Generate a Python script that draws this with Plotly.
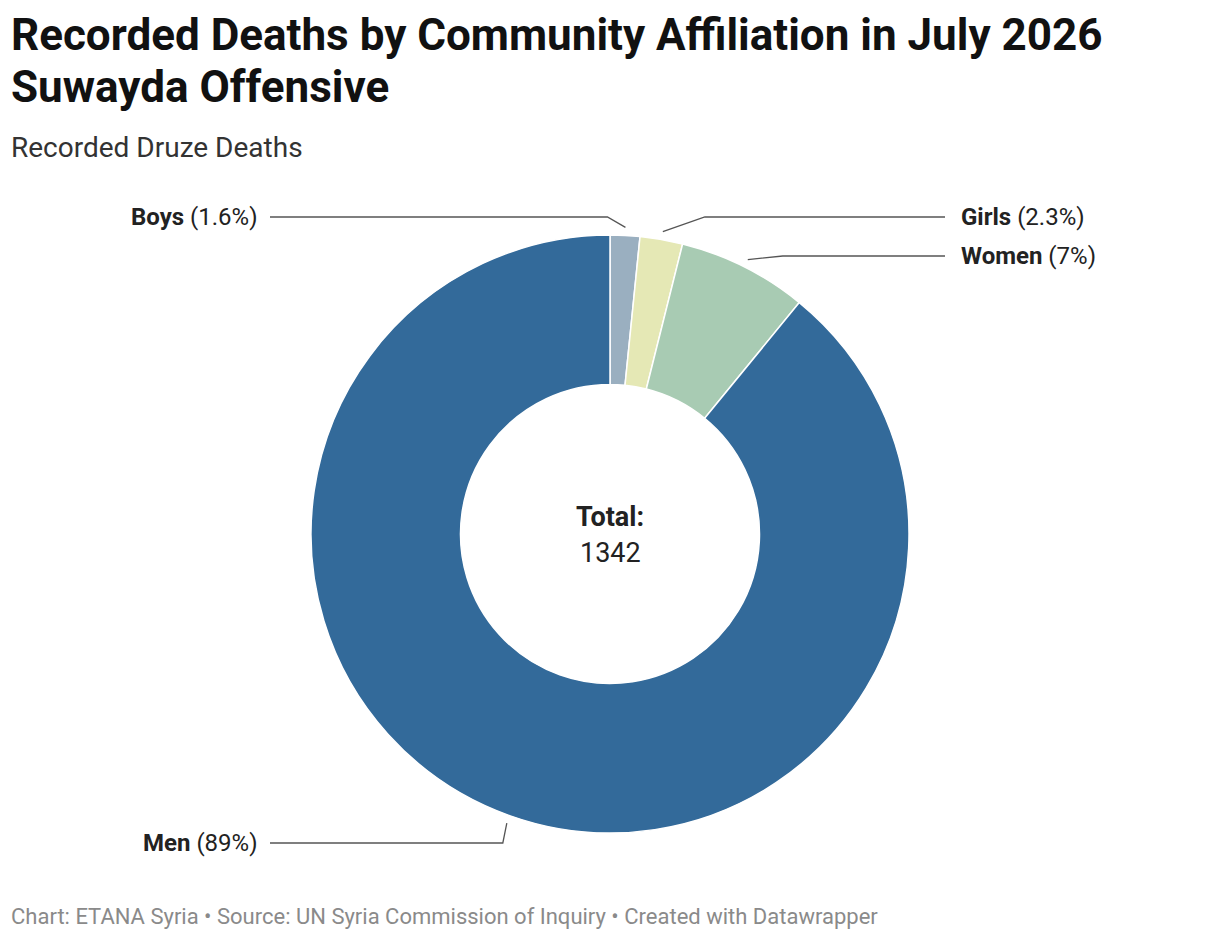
import math
import plotly.graph_objects as go

labels = ["Boys", "Girls", "Women", "Men"]
shares = [1.6, 2.3, 7, 89]
pct_text = ["1.6%", "2.3%", "7%", "89%"]
colors = ["#9aafc0", "#e5e8b5", "#a8cbb3", "#336a9a"]
total = 1342
title_lines = ["Recorded Deaths by Community Affiliation in July 2026", "Suwayda Offensive"]

# page body has an 8px margin, so the figure is shrunk to fit the window
OFF = 8
W, H = 1220 - 2 * OFF, 940 - 2 * OFF
cx, cy, R = 610, 534, 299

def px(x):
    return (x - OFF) / W

def py(y):
    return 1 - (y - OFF) / H

fig = go.Figure(go.Pie(
    labels=labels, values=shares, hole=0.5, sort=False, direction="clockwise",
    rotation=0, marker=dict(colors=colors, line=dict(color="white", width=1.5)),
    textinfo="none", hoverinfo="label+percent", showlegend=False,
    domain=dict(x=[px(cx - R), px(cx + R)], y=[py(cy + R), py(cy - R)]),
))

# label layout: (label y, elbow x offset, side)
label_pos = [(217, -18, "left"), (217, 42, "right"), (256, 35, "right"), (843, -4, "left")]
end_x = {"left": 270, "right": 945}

s = sum(shares)
acc = 0
shapes, annotations = [], []
for lab, v, pt, (ly, dx, side) in zip(labels, shares, pct_text, label_pos):
    mid = (acc + v / 2) / s * 2 * math.pi
    acc += v
    sx = cx + (R + 8) * math.sin(mid)
    sy = cy - (R + 8) * math.cos(mid)
    ex = sx + dx
    shapes.append(dict(type="path", xref="paper", yref="paper",
                       path=f"M {px(sx)} {py(sy)} L {px(ex)} {py(ly)} L {px(end_x[side])} {py(ly)}",
                       line=dict(color="#555", width=1.3)))
    tx = end_x[side] + (-10 if side == "left" else 14)
    annotations.append(dict(x=px(tx), y=py(ly), xref="paper", yref="paper",
                            text=f"<b>{lab}</b> ({pt})", showarrow=False,
                            xanchor="right" if side == "left" else "left", yanchor="middle",
                            font=dict(size=24, color="#222")))

for line, ty in zip(title_lines, [35, 87]):
    annotations.append(dict(x=px(9), y=py(ty), xref="paper", yref="paper", xanchor="left",
                            yanchor="middle", text=f"<b>{line}</b>", showarrow=False,
                            font=dict(size=44, color="#111")))

annotations += [
    dict(x=px(9), y=py(147), xref="paper", yref="paper", xanchor="left", yanchor="middle",
         text="Recorded Druze Deaths", showarrow=False, font=dict(size=28, color="#333")),
    dict(x=px(610), y=py(517), xref="paper", yref="paper", text="<b>Total:</b>",
         yanchor="middle", showarrow=False, font=dict(size=27, color="#222")),
    dict(x=px(610), y=py(553), xref="paper", yref="paper", text=str(total),
         yanchor="middle", showarrow=False, font=dict(size=27, color="#222")),
    dict(x=px(9), y=py(916), xref="paper", yref="paper", xanchor="left", yanchor="middle",
         text="Chart: ETANA Syria • Source: UN Syria Commission of Inquiry • Created with Datawrapper",
         showarrow=False, font=dict(size=22, color="#8a8a8a")),
]

fig.update_layout(width=W, height=H, margin=dict(l=0, r=0, t=0, b=0),
                  paper_bgcolor="white", font=dict(family="Roboto"),
                  shapes=shapes, annotations=annotations)
fig.write_html("out.html")
